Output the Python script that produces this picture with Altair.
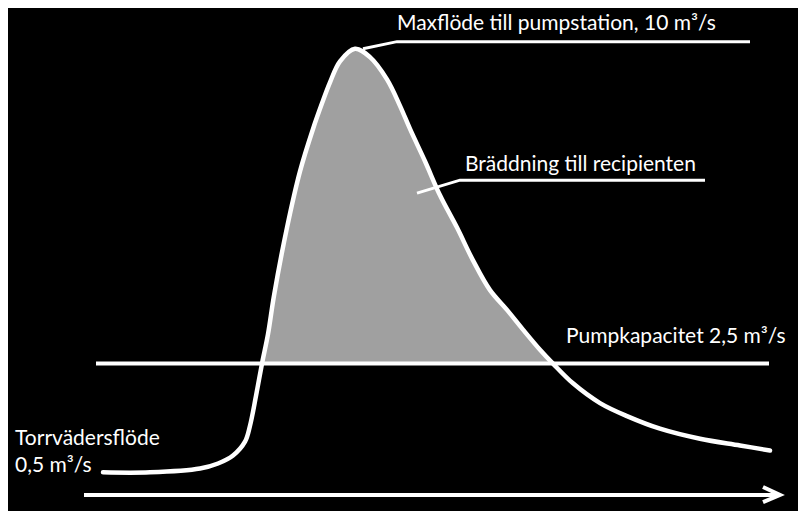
import altair as alt
import pandas as pd

# Hydrograph (time in arbitrary units, flow in m3/s)
time = [10.3, 15.0, 20.0, 21.8, 23.3, 24.5, 25.0, 25.6, 26.2, 26.8, 27.4, 28.7, 30.0, 31.3,
        32.2, 33.0, 34.0, 35.5, 37.0, 38.7, 40.0, 41.0, 42.5, 44.0, 45.7, 47.3, 49.0, 50.7,
        52.3, 54.0, 55.3, 57.3, 60.0, 62.7, 66.0, 70.0, 74.0, 77.0]
flow = [-0.09, -0.09, 0.00, 0.12, 0.31, 0.64, 1.02, 1.73, 2.50, 3.20, 4.12, 5.74, 7.08, 8.09,
        8.70, 9.20, 9.70, 10.0, 9.80, 9.27, 8.64, 8.09, 7.32, 6.51, 5.74, 4.96, 4.25, 3.78,
        3.31, 2.83, 2.50, 2.03, 1.56, 1.25, 0.95, 0.71, 0.55, 0.43]
pump_capacity = 2.5

curve = pd.DataFrame({"t": time, "q": flow, "o": range(len(time))})
over = curve[curve["q"] >= pump_capacity - 1e-9].reset_index(drop=True)
over = pd.DataFrame({"t": over["t"], "q": over["q"], "base": [pump_capacity] * len(over)})

# Leader lines for annotations
lead_max_t = [36.3, 39.7, 75.0]
lead_max_q = [10.0, 10.17, 10.17]
lead_br_t = [41.7, 46.0, 70.5]
lead_br_q = [6.56, 6.87, 6.87]
pump_t = [9.6, 76.9]
axis_t = [8.4, 77.8]
axis_q = -0.63
head_t = [76.3, 78.0, 76.3]
head_q = [-0.44, -0.63, -0.80]

labels = pd.DataFrame({
    "t": [39.7, 46.5, 56.6, 1.5, 1.5],
    "q": [10.45, 7.08, 3.00, 0.57, -0.09],
    "txt": ["Maxflöde till pumpstation, 10 m³/s", "Bräddning till recipienten",
            "Pumpkapacitet 2,5 m³/s", "Torrvädersflöde", "0,5 m³/s"],
})

xs = alt.Scale(domain=[0.8, 79.8], nice=False, zero=False)
ys = alt.Scale(domain=[-0.892, 10.971], nice=False, zero=False)
X = lambda f="t": alt.X(f"{f}:Q", scale=xs, axis=None)
Y = lambda f="q": alt.Y(f"{f}:Q", scale=ys, axis=None)

def poly(ts, qs):
    return pd.DataFrame({"t": ts, "q": qs, "o": range(len(ts))})

area = alt.Chart(over).mark_area(color="#a0a0a0", fill="#a0a0a0", opacity=1,
                                 interpolate="catmull-rom").encode(
    x=X(), y=Y(), y2=alt.Y2("base"))

pump = alt.Chart(poly(pump_t, [pump_capacity] * 2)).mark_line(
    color="white", strokeWidth=4).encode(x=X(), y=Y(), order="o:Q")

line = alt.Chart(curve).mark_line(color="white", strokeWidth=4.5, interpolate="catmull-rom",
                                  strokeCap="round").encode(x=X(), y=Y(), order="o:Q")

lead1 = alt.Chart(poly(lead_max_t, lead_max_q)).mark_line(color="white", strokeWidth=3).encode(
    x=X(), y=Y(), order="o:Q")
lead2 = alt.Chart(poly(lead_br_t, lead_br_q)).mark_line(color="white", strokeWidth=3).encode(
    x=X(), y=Y(), order="o:Q")

axis_line = alt.Chart(poly(axis_t, [axis_q] * 2)).mark_line(color="white", strokeWidth=4).encode(
    x=X(), y=Y(), order="o:Q")
head = alt.Chart(poly(head_t, head_q)).mark_line(color="white", strokeWidth=4,
                                                   strokeJoin="miter").encode(
    x=X(), y=Y(), order="o:Q")

text = alt.Chart(labels).mark_text(align="left", baseline="alphabetic", color="white",
                                   font="Lato", fontSize=21).encode(
    x=X(), y=Y(), text="txt:N")

chart = alt.layer(area, pump, line, lead1, lead2, axis_line, head, text).properties(
    width=790, height=503, background="black", padding=0,
    autosize=alt.AutoSizeParams(type="fit", contains="padding"),
).configure_view(stroke=None)

chart.save("out.html", embed_options={"renderer": "svg", "actions": False})
